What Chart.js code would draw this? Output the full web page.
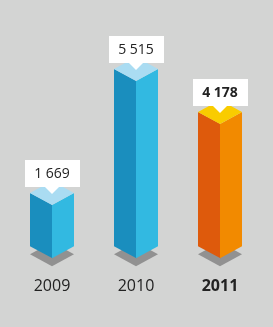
<!DOCTYPE html>
<html>
<head>
<meta charset="utf-8">
<script src="https://cdn.jsdelivr.net/npm/chart.js@4/dist/chart.umd.min.js"></script>
<style>
  html, body { margin: 0; padding: 0; background: #d3d4d3; }
  canvas { display: block; }
</style>
</head>
<body>
<canvas id="c" width="273" height="327"></canvas>
<script>
const categories = ['2009', '2010', '2011'];
const values = [1669, 5515, 4178];
const valueLabels = ['1 669', '5 515', '4 178'];
const highlighted = [false, false, true];

const palettes = {
  blue:   { left: '#1a8ebe', right: '#32b9e1', top: '#aadcf2' },
  orange: { left: '#de5a0c', right: '#f28a00', top: '#f9cc00' }
};
const shadowColor = '#919191';
const textColor = '#222222';

const prismPlugin = {
  id: 'prism',
  afterDatasetsDraw(chart) {
    const ctx = chart.ctx;
    const meta = chart.getDatasetMeta(0);
    const d = 12;
    meta.data.forEach((el, i) => {
      const p = highlighted[i] ? palettes.orange : palettes.blue;
      const x = el.x, y = Math.round(el.y), base = el.base, hw = el.width / 2;
      const poly = (pts, color) => {
        ctx.beginPath();
        ctx.moveTo(pts[0][0], pts[0][1]);
        for (let k = 1; k < pts.length; k++) ctx.lineTo(pts[k][0], pts[k][1]);
        ctx.closePath();
        ctx.fillStyle = color;
        ctx.fill();
      };
      ctx.save();
      // shadow
      const sb = base + 8;
      poly([[x - hw, sb], [x, sb - d], [x + hw, sb], [x, sb + d]], shadowColor);
      // faces
      poly([[x - hw, y], [x + 0.5, y + d], [x + 0.5, base + d], [x - hw, base]], p.left);
      poly([[x, y + d], [x + hw, y], [x + hw, base], [x, base + d]], p.right);
      poly([[x - hw, y], [x, y - d], [x + hw, y], [x, y + d]], p.top);
      // label box
      const bw = 55, bh = 27, gap = 6;
      const by = y - gap - bh;
      ctx.fillStyle = '#ffffff';
      ctx.fillRect(Math.round(x - bw / 2), Math.round(by), bw, bh);
      poly([[x - 7, y - gap], [x + 7, y - gap], [x, y + 1]], '#ffffff');
      ctx.fillStyle = textColor;
      ctx.textAlign = 'center';
      ctx.textBaseline = 'middle';
      ctx.font = (highlighted[i] ? 'bold ' : '') + '14px "Open Sans"';
      ctx.fillText(valueLabels[i], x, by + bh / 2 + 1);
      // year label
      ctx.font = (highlighted[i] ? 'bold ' : '') + '16px "Open Sans"';
      ctx.fillText(categories[i], x, chart.chartArea.bottom + 46);
      ctx.restore();
    });
  }
};

new Chart(document.getElementById('c'), {
  type: 'bar',
  data: {
    labels: categories,
    datasets: [{
      data: values,
      backgroundColor: 'rgba(0,0,0,0)',
      borderWidth: 0,
      barThickness: 44
    }]
  },
  options: {
    responsive: false,
    animation: false,
    devicePixelRatio: 1,
    layout: { padding: { left: 10, right: 11, top: 0, bottom: 87 } },
    plugins: { legend: { display: false }, tooltip: { enabled: false } },
    scales: {
      x: { display: false },
      y: { display: false, min: 196, max: 7670 }
    }
  },
  plugins: [prismPlugin]
});
</script>
</body>
</html>
